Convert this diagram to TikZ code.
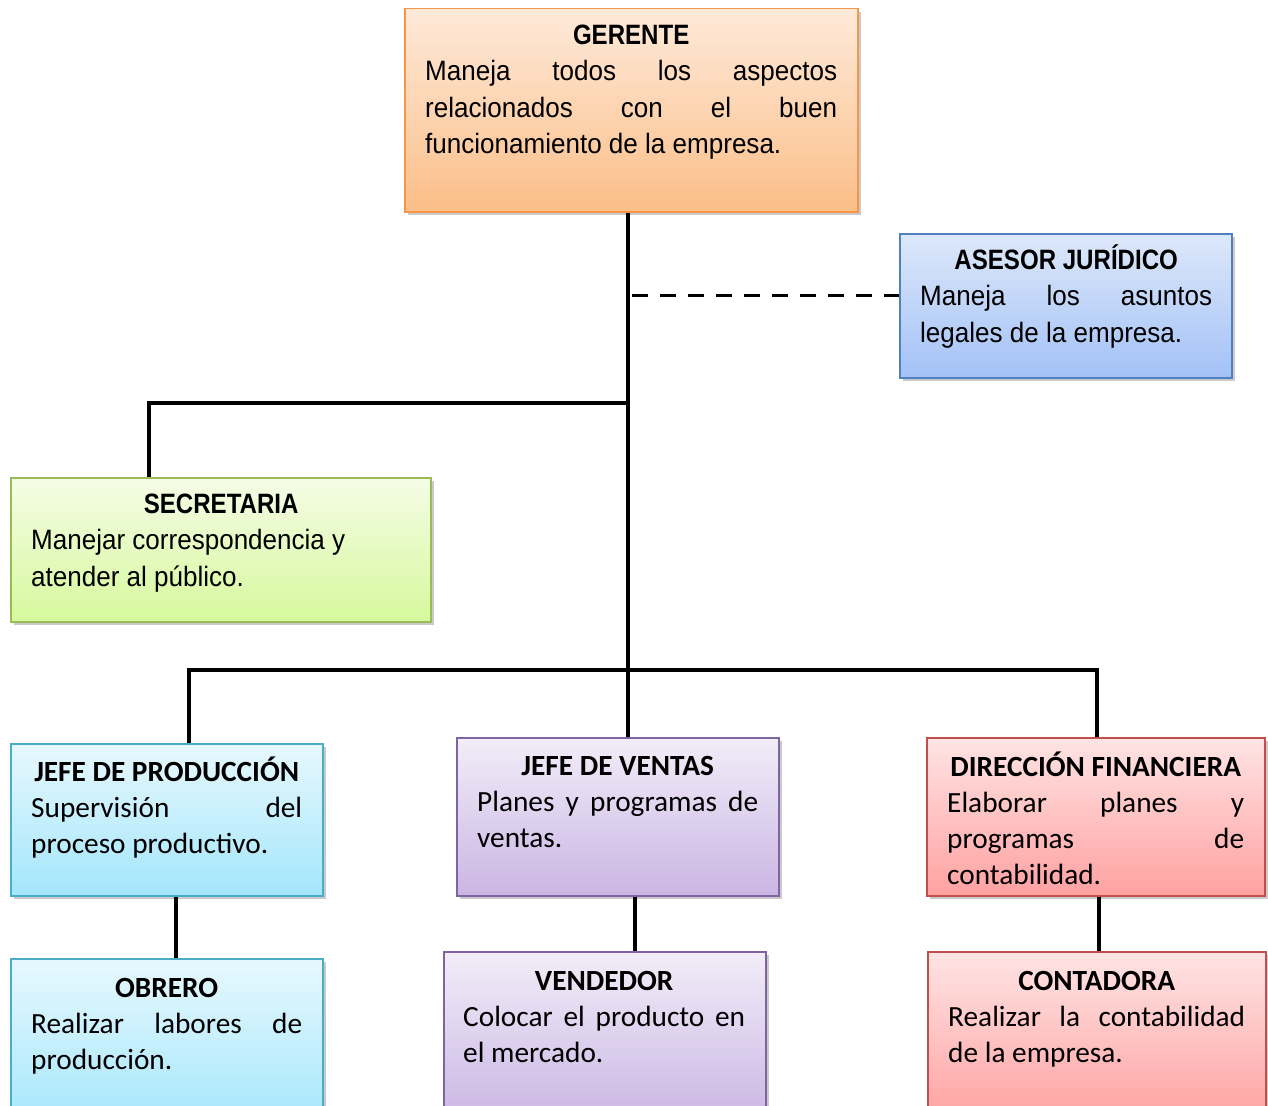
\documentclass[tikz,border=0pt]{standalone}
\usepackage{fontspec}
\setmainfont{Carlito}
\newfontfamily\narrowfont{Liberation Sans}[FakeStretch=0.93, BoldFeatures={FakeStretch=0.86}]
\usepackage{xcolor}
\usetikzlibrary{shadows}

\definecolor{gerline}{HTML}{F79646}
\definecolor{gertop}{HTML}{FEEADA}
\definecolor{gerbot}{HTML}{FBBE88}
\definecolor{aseline}{HTML}{4F81BD}
\definecolor{asetop}{HTML}{DDE8FA}
\definecolor{asebot}{HTML}{A3C1F7}
\definecolor{secline}{HTML}{9BBB59}
\definecolor{sectop}{HTML}{F5FCE6}
\definecolor{secbot}{HTML}{D6F99C}
\definecolor{proline}{HTML}{4BACC6}
\definecolor{protop}{HTML}{E7F8FE}
\definecolor{probot}{HTML}{A3E6FB}
\definecolor{venline}{HTML}{8064A2}
\definecolor{ventop}{HTML}{F2EDF8}
\definecolor{venbot}{HTML}{CAB6E4}
\definecolor{finline}{HTML}{C0504D}
\definecolor{fintop}{HTML}{FFE4E4}
\definecolor{finbot}{HTML}{FFA1A1}

% titulo centrado, con altura fija para la primera linea
\newcommand{\titulo}[1]{\spaceskip=0pt\xspaceskip=0pt
  \makebox[\linewidth]{\rule{0pt}{27pt}\bfseries #1}}
% linea justificada
\newcommand{\just}[1]{\makebox[\linewidth][s]{#1}}

\begin{document}
\begin{tikzpicture}[
  x=1pt, y=-1pt,
  cargo/.style n args={3}{draw=#1, line width=1.5pt, top color=#2, bottom color=#3,
    anchor=north west, inner sep=0pt,
    drop shadow={shadow xshift=3pt, shadow yshift=-3pt, opacity=0.35, fill=black!60}},
  arriba/.style={anchor=north west, inner sep=0pt, align=left,
    font=\narrowfont\fontsize{28}{36.5}\selectfont},
  abajo/.style={anchor=north west, inner sep=0pt, align=left,
    font=\fontsize{29.3}{36}\selectfont},
  linea/.style={line width=3.5pt},
  punteada/.style={line width=3pt, dash pattern=on 16pt off 12pt}
]
\useasboundingbox (0,0) rectangle (1268,1105);

% cajas
\node[cargo={gerline}{gertop}{gerbot}, minimum width=453, minimum height=203] (ger) at (404,8) {};
\node[cargo={aseline}{asetop}{asebot}, minimum width=332, minimum height=144] (ase) at (899,233) {};
\node[cargo={secline}{sectop}{secbot}, minimum width=420, minimum height=144] (sec) at (10,477) {};
\node[cargo={proline}{protop}{probot}, minimum width=312, minimum height=152] (pro) at (10,743) {};
\node[cargo={proline}{protop}{probot}, minimum width=312, minimum height=170] (obr) at (10,958) {};
\node[cargo={venline}{ventop}{venbot}, minimum width=322, minimum height=158] (jven) at (456,737) {};
\node[cargo={venline}{ventop}{venbot}, minimum width=322, minimum height=170] (vend) at (443,951) {};
\node[cargo={finline}{fintop}{finbot}, minimum width=338, minimum height=158] (fin) at (926,737) {};
\node[cargo={finline}{fintop}{finbot}, minimum width=338, minimum height=170] (cont) at (927,951) {};

% textos
\node[arriba, text width=412] (ger-t) at (425,17) {\titulo{GERENTE}\\
  \just{Maneja\hfill todos\hfill los\hfill aspectos}\\
  \just{relacionados\hfill con\hfill el\hfill buen}\\
  funcionamiento de la empresa.};
\node[arriba, text width=292] (ase-t) at (920,242) {\titulo{ASESOR JURÍDICO}\\
  \just{Maneja\hfill los\hfill asuntos}\\
  legales de la empresa.};
\node[arriba, text width=380] (sec-t) at (31,486) {\titulo{SECRETARIA}\\
  Manejar correspondencia y\\
  atender al público.};
\node[abajo, text width=271] (pro-t) at (31,754) {\titulo{JEFE DE PRODUCCIÓN}\\
  \just{Supervisión\hfill del}\\
  proceso productivo.};
\node[abajo, text width=271] (obr-t) at (31,970) {\titulo{OBRERO}\\
  \just{Realizar\hfill labores\hfill de}\\
  producción.};
\node[abajo, text width=281] (jven-t) at (477,748) {\titulo{JEFE DE VENTAS}\\
  \just{Planes\hfill y\hfill programas\hfill de}\\
  ventas.};
\node[abajo, text width=282] (vend-t) at (463,963) {\titulo{VENDEDOR}\\
  \just{Colocar\hfill el\hfill producto\hfill en}\\
  el mercado.};
\node[abajo, text width=297] (fin-t) at (947,749) {\titulo{DIRECCIÓN FINANCIERA}\\
  \just{Elaborar\hfill planes\hfill y}\\
  \just{programas\hfill de}\\
  contabilidad.};
\node[abajo, text width=297] (cont-t) at (948,963) {\titulo{CONTADORA}\\
  \just{Realizar\hfill la\hfill contabilidad}\\
  de la empresa.};

% puntos de quiebre
\coordinate (eje-ase) at (628,295);
\coordinate (eje-sec) at (628,403);
\coordinate (eje-baja) at (628,670);

% conectores
\draw[linea] (ger.south -| eje-sec) -- (jven.north -| eje-sec);
\draw[punteada] ([xshift=4pt]eje-ase) -- (eje-ase -| ase.west);
\draw[linea] (eje-sec) -| ([xshift=-72pt]sec.north);
\draw[linea] ([xshift=22pt]pro.north) |- (eje-baja) -| ([xshift=1pt]fin.north);
\draw[linea] ([xshift=9pt]pro.south) -- ([xshift=9pt]pro.south |- obr.north);
\draw[linea] ([xshift=17pt]jven.south) -- ([xshift=17pt]jven.south |- vend.north);
\draw[linea] ([xshift=3pt]fin.south) -- ([xshift=3pt]fin.south |- cont.north);
\end{tikzpicture}
\end{document}
